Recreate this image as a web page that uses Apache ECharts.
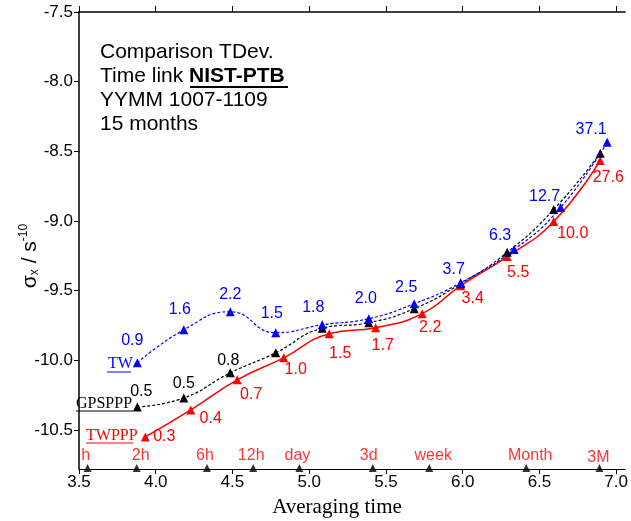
<!DOCTYPE html>
<html>
<head>
<meta charset="utf-8">
<script src="https://cdn.jsdelivr.net/npm/echarts@6/dist/echarts.min.js"></script>
<style>
  html, body { margin: 0; padding: 0; background: #fff; }
  #main { width: 631px; height: 521px; }
</style>
</head>
<body>
<div id="main"></div>
<script>
// log10 of averaging time (s) and log10 of TDev (s)
var twX = [3.88, 4.183, 4.486, 4.782, 5.085, 5.388, 5.684, 5.987, 6.335, 6.638, 6.941];
var twY = [-10.018, -9.781, -9.651, -9.802, -9.745, -9.701, -9.594, -9.443, -9.205, -8.903, -8.435];
var twLabels = ['0.9', '1.6', '2.2', '1.5', '1.8', '2.0', '2.5', '3.7', '6.3', '12.7', '37.1'];

var gpsX = [3.88, 4.183, 4.486, 4.782, 5.085, 5.388, 5.684, 5.987, 6.29, 6.593, 6.896];
var gpsY = [-10.335, -10.27, -10.09, -9.946, -9.77, -9.73, -9.629, -9.45, -9.225, -8.917, -8.514];
var gpsLabels = ['0.5', '0.5', '0.8', '', '', '', '', '', '', '', ''];

var twpppX = [3.932, 4.228, 4.531, 4.834, 5.13, 5.433, 5.736, 5.987, 6.29, 6.593, 6.896];
var twpppY = [-10.55, -10.356, -10.14, -9.982, -9.809, -9.766, -9.665, -9.464, -9.255, -9.004, -8.565];
var twpppLabels = ['0.3', '0.4', '0.7', '1.0', '1.5', '1.7', '2.2', '3.4', '5.5', '10.0', '27.6'];

var timeMarks = [3.556, 3.876, 4.334, 4.635, 4.936, 5.414, 5.782, 6.414, 6.891];
var timeNames = ['h', '2h', '6h', '12h', 'day', '3d', 'week', 'Month', '3M'];

var xTicks = [3.5, 4.0, 4.5, 5.0, 5.5, 6.0, 6.5, 7.0];
var yTicks = [-10.5, -10.0, -9.5, -9.0, -8.5, -8.0, -7.5];

// label placement (pixel shift of label centre from its point)
var twShift = [[-5, -22], [-4, -20], [0, -17], [-4, -19], [-9, -17], [-3, -20], [-8, -16], [-7, -13], [-14, -14], [-16, -11], [-16, -13]];
var gpsShift = [[4, -15], [0, -14], [-2, -12]];
var twpppShift = [[19, 0], [20, 9], [14, 15], [12, 12], [11, 20], [7, 18], [8, 14], [12, 13], [11, 16], [19, 12], [8, 17]];
var markShift = [[-2, -12], [4, -12], [-2, -12], [-2, -12], [-2, -12], [-4, -12], [4, -12], [4, -12], [-1, -10]];

var X_MIN = 3.5, X_MAX = 7.058, Y_MIN = -10.78, Y_MAX = -7.5;

function pairs(xs, ys, labels, shift) {
    return xs.map(function (x, i) {
        var item = {value: [x, ys[i]], labelText: labels[i]};
        if (shift[i]) {
            item.label = {offset: shift[i]};
        }
        return item;
    });
}

var sans = 'Liberation Sans, Arial, sans-serif';
var serif = 'Liberation Serif, Times New Roman, serif';

function labelOf(p) {
    return p.data.labelText;
}

var myChart = echarts.init(document.getElementById('main'));

var option = {
    animation: false,
    backgroundColor: '#fff',
    grid: {left: 79, top: 12, right: 0, bottom: 52},
    xAxis: [{
        type: 'value',
        min: X_MIN,
        max: X_MAX,
        position: 'bottom',
        axisLine: {lineStyle: {color: '#000', width: 1}},
        axisTick: {show: true, length: 5, customValues: xTicks, lineStyle: {color: '#000'}},
        axisLabel: {
            customValues: xTicks, margin: 5,
            color: '#000', fontSize: 17, fontFamily: sans,
            formatter: function (v) { return v.toFixed(1); }
        },
        splitLine: {show: false}
    }, {
        type: 'value',
        min: X_MIN,
        max: X_MAX,
        position: 'top',
        axisLine: {lineStyle: {color: '#000', width: 1.5}},
        axisTick: {show: true, length: 6, customValues: xTicks, lineStyle: {color: '#000'}},
        axisLabel: {show: false},
        splitLine: {show: false}
    }],
    yAxis: {
        type: 'value',
        min: Y_MIN,
        max: Y_MAX,
        axisLine: {show: true, lineStyle: {color: '#000', width: 1.5}},
        axisTick: {show: true, length: 5, customValues: yTicks, lineStyle: {color: '#000'}},
        axisLabel: {
            customValues: yTicks, margin: 6,
            color: '#000', fontSize: 17, fontFamily: sans,
            formatter: function (v) { return v.toFixed(1); }
        },
        splitLine: {show: false}
    },
    series: [
        {
            name: 'TW',
            type: 'line',
            smooth: 0.5,
            symbol: 'triangle',
            symbolSize: 9,
            itemStyle: {color: '#0000ff'},
            lineStyle: {color: '#0000ff', width: 1.2, type: [3, 2]},
            label: {
                show: true, position: 'inside',
                color: '#0000ff', fontSize: 16, fontFamily: sans,
                formatter: labelOf
            },
            data: pairs(twX, twY, twLabels, twShift),
            z: 4
        },
        {
            name: 'GPSPPP',
            type: 'line',
            smooth: 0.5,
            symbol: 'triangle',
            symbolSize: 9,
            itemStyle: {color: '#000'},
            lineStyle: {color: '#000', width: 1.2, type: [3, 2]},
            label: {
                show: true, position: 'inside',
                color: '#000', fontSize: 16, fontFamily: sans,
                formatter: labelOf
            },
            data: pairs(gpsX, gpsY, gpsLabels, gpsShift),
            z: 3
        },
        {
            name: 'TWPPP',
            type: 'line',
            smooth: 0.5,
            symbol: 'triangle',
            symbolSize: 9,
            itemStyle: {color: '#ff0000'},
            lineStyle: {color: '#ff0000', width: 1.5},
            label: {
                show: true, position: 'inside',
                color: '#ff0000', fontSize: 16, fontFamily: sans,
                formatter: labelOf
            },
            data: pairs(twpppX, twpppY, twpppLabels, twpppShift),
            z: 2
        },
        {
            name: 'marks',
            type: 'scatter',
            symbol: 'triangle',
            symbolSize: 8,
            symbolOffset: [0, -1],
            clip: false,
            itemStyle: {color: '#000'},
            label: {
                show: true, position: 'inside',
                color: '#ff0000', fontSize: 16, fontFamily: sans,
                formatter: labelOf
            },
            data: pairs(timeMarks, timeMarks.map(function () { return Y_MIN; }), timeNames, markShift),
            z: 5
        }
    ],
    graphic: [
        {
            type: 'text', left: 100, top: 40,
            style: {
                text: 'Comparison TDev.\nTime link {b|NIST-PTB}\nYYMM 1007-1109\n15 months',
                font: '21px ' + sans, fill: '#000', lineHeight: 24,
                rich: {b: {fontWeight: 'bold', fontSize: 21, fontFamily: sans, fill: '#000', lineHeight: 24}}
            }
        },
        {type: 'line', shape: {x1: 190, y1: 87, x2: 288, y2: 87}, style: {stroke: '#000', lineWidth: 2}},
        {
            type: 'text', x: 30, y: 256, rotation: Math.PI / 2,
            style: {
                text: '{a|σ}{sub|x}{a| / s}{sup|-10}',
                align: 'center', verticalAlign: 'middle',
                rich: {
                    a: {fontSize: 21, fontFamily: sans, fill: '#000'},
                    sub: {fontSize: 12, fontFamily: sans, fill: '#000', padding: [10, 0, 0, 0]},
                    sup: {fontSize: 12, fontFamily: sans, fill: '#000', padding: [0, 0, 12, 0]}
                }
            }
        },
        {
            type: 'text', x: 337, y: 507,
            style: {text: 'Averaging time', font: '21px ' + serif, fill: '#000', align: 'center', verticalAlign: 'middle'}
        },
        {type: 'text', left: 108, top: 356, style: {text: 'TW', font: '16px ' + serif, fill: '#0000ff'}},
        {type: 'line', shape: {x1: 107, y1: 372, x2: 131, y2: 372}, style: {stroke: '#0000ff', lineWidth: 1}},
        {type: 'text', left: 76, top: 396, style: {text: 'GPSPPP', font: '16px ' + serif, fill: '#000'}},
        {type: 'line', shape: {x1: 76, y1: 411, x2: 133, y2: 411}, style: {stroke: '#000', lineWidth: 1}},
        {type: 'text', left: 86, top: 428, style: {text: 'TWPPP', font: '16px ' + serif, fill: '#ff0000'}},
        {type: 'line', shape: {x1: 86, y1: 443, x2: 133, y2: 443}, style: {stroke: '#ff0000', lineWidth: 1}}
    ]
};

myChart.setOption(option);
</script>
</body>
</html>
